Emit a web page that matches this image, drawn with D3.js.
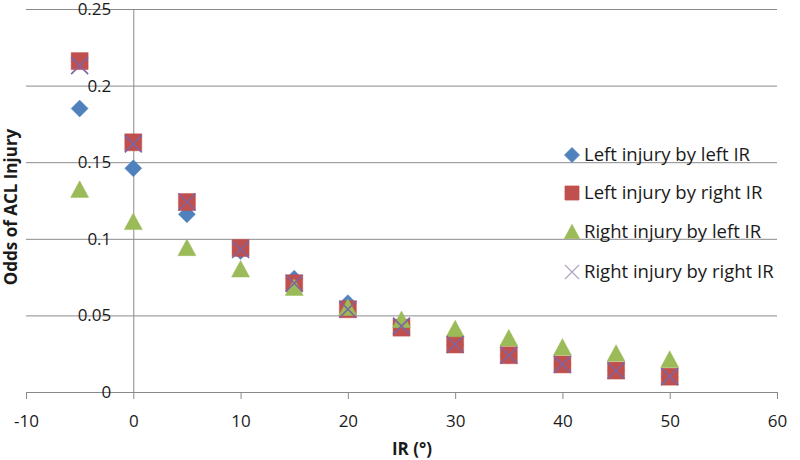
<!DOCTYPE html>
<html>
<head>
<meta charset="utf-8">
<script src="https://cdn.jsdelivr.net/npm/d3@7"></script>
<style>
  html, body { margin: 0; padding: 0; background: #fff; }
  svg { display: block; }
  text { font-family: "Open Sans", "Liberation Sans", sans-serif; fill: #1a1a1a; }
</style>
</head>
<body>
<svg id="chart" width="800" height="460"></svg>
<script>
// ---- Data ----
const irValues = [-5, 0, 5, 10, 15, 20, 25, 30, 35, 40, 45, 50];
const leftInjuryByLeftIR   = [0.185, 0.146, 0.116, 0.092, 0.074, 0.058, 0.044, 0.031, 0.024, 0.018, 0.014, 0.010];
const leftInjuryByRightIR  = [0.216, 0.163, 0.124, 0.094, 0.071, 0.054, 0.042, 0.031, 0.024, 0.018, 0.014, 0.010];
const rightInjuryByLeftIR  = [0.132, 0.111, 0.094, 0.080, 0.068, 0.055, 0.047, 0.041, 0.035, 0.029, 0.025, 0.021];
const rightInjuryByRightIR = [0.213, 0.162, 0.124, 0.093, 0.071, 0.054, 0.043, 0.031, 0.024, 0.018, 0.014, 0.010];
const seriesNames = ["Left injury by left IR", "Left injury by right IR", "Right injury by left IR", "Right injury by right IR"];
const xTickValues = [-10, 0, 10, 20, 30, 40, 50, 60];
const xTickLabels = ["-10", "0", "10", "20", "30", "40", "50", "60"];
const yTickValues = [0, 0.05, 0.1, 0.15, 0.2, 0.25];
const yTickLabels = ["0", "0.05", "0.1", "0.15", "0.2", "0.25"];
const xTitle = "IR (°)";
const yTitle = "Odds of ACL Injury";

// ---- Styles ----
const colors = ["#4F81BD", "#C0504D", "#9BBB59", "#8064A2"];
const gridColor = "#8a8a8a";

const svg = d3.select("#chart");
const x = d3.scaleLinear().domain([-10, 60]).range([26, 777]);
const y = d3.scaleLinear().domain([0, 0.25]).range([392, 9]);

// custom symbol types
const symDiamond = { draw(ctx, size) { const r = Math.sqrt(size) / 2; ctx.moveTo(0, -r); ctx.lineTo(r, 0); ctx.lineTo(0, r); ctx.lineTo(-r, 0); ctx.closePath(); } };
const symSquare = { draw(ctx, size) { const r = Math.sqrt(size) / 2; ctx.rect(-r, -r, 2 * r, 2 * r); } };
const symTriangle = { draw(ctx, size) { const r = Math.sqrt(size) / 2; ctx.moveTo(0, -r); ctx.lineTo(r, r * 0.85); ctx.lineTo(-r, r * 0.85); ctx.closePath(); } };
const symX = { draw(ctx, size) { const r = Math.sqrt(size) / 2; ctx.moveTo(-r, -r); ctx.lineTo(r, r); ctx.moveTo(-r, r); ctx.lineTo(r, -r); } };
const symbolTypes = [symDiamond, symSquare, symTriangle, symX];
const markerSizes = [17 * 17, 17 * 17, 18 * 18, 17 * 17];
const legendSizes = [15 * 15, 14 * 14, 15 * 15, 14 * 14];

// ---- Gridlines ----
svg.append("g")
  .attr("transform", `translate(${x(-10)},0)`)
  .call(d3.axisLeft(y).tickValues(yTickValues).tickSize(-(x(60) - x(-10))).tickFormat(""))
  .call(g => g.select(".domain").remove())
  .call(g => g.selectAll("line").attr("stroke", gridColor).attr("stroke-width", 1));

// ---- X axis ----
svg.append("g")
  .attr("transform", `translate(0,${y(0)})`)
  .call(d3.axisBottom(x).tickValues(xTickValues).tickSizeInner(7).tickSizeOuter(0).tickPadding(16).tickFormat((d, i) => xTickLabels[i]))
  .call(g => g.select(".domain").attr("stroke", gridColor))
  .call(g => g.selectAll("line").attr("stroke", gridColor))
  .call(g => g.selectAll("text").style("font-size", "17px").attr("fill", "#1a1a1a").style("font-family", "'Open Sans', sans-serif"));

// ---- Y axis (crosses at x = 0) ----
svg.append("g")
  .attr("transform", `translate(${x(0)},0)`)
  .call(d3.axisLeft(y).tickValues(yTickValues).tickSize(0).tickPadding(22).tickFormat((d, i) => yTickLabels[i]))
  .call(g => g.select(".domain").attr("stroke", gridColor))
  .call(g => g.selectAll("text").style("font-size", "17px").attr("fill", "#1a1a1a").style("font-family", "'Open Sans', sans-serif"));

// ---- Axis titles ----
svg.append("text")
  .attr("x", 412).attr("y", 455)
  .attr("text-anchor", "middle")
  .style("font-size", "17px").style("font-weight", "bold")
  .text(xTitle);

svg.append("text")
  .attr("transform", "translate(17,207) rotate(-90)")
  .attr("text-anchor", "middle")
  .style("font-size", "17px").style("font-weight", "bold")
  .text(yTitle);

// ---- Markers ----
const allSeries = [leftInjuryByLeftIR, leftInjuryByRightIR, rightInjuryByLeftIR, rightInjuryByRightIR];
allSeries.forEach((vals, si) => {
  const sym = d3.symbol().type(symbolTypes[si]).size(markerSizes[si]);
  const g = svg.append("g");
  g.selectAll("path")
    .data(irValues.map((v, i) => [v, vals[i]]))
    .join("path")
    .attr("transform", d => `translate(${x(d[0])},${y(d[1])})`)
    .attr("d", sym())
    .attr("fill", si === 3 ? "none" : colors[si])
    .attr("stroke", colors[si])
    .attr("stroke-width", si === 3 ? 1.6 : 0.8)
    .attr("stroke-opacity", si === 3 ? 1 : 0.6);
});

// ---- Legend ----
const legendY = [155, 193, 232, 272];
const legend = svg.append("g");
seriesNames.forEach((name, si) => {
  const sym = d3.symbol().type(symbolTypes[si]).size(legendSizes[si]);
  legend.append("path")
    .attr("transform", `translate(572,${legendY[si]})`)
    .attr("d", sym())
    .attr("fill", si === 3 ? "none" : colors[si])
    .attr("stroke", si === 3 ? "#b3a2c7" : colors[si])
    .attr("stroke-width", si === 3 ? 1.2 : 0.8);
  legend.append("text")
    .attr("x", 584).attr("y", legendY[si])
    .attr("dy", "0.35em")
    .style("font-size", "18.5px")
    .text(name);
});
</script>
</body>
</html>
